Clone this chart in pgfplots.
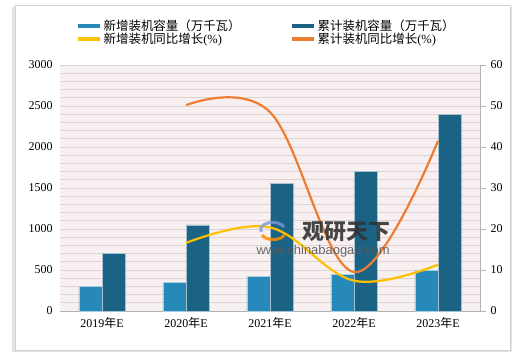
\documentclass[border=0pt]{standalone}
\usepackage{pgfplots}
\pgfplotsset{compat=1.18}
\usepackage{fontspec}
\setmainfont{Liberation Serif}
\newfontfamily\cjk{Noto Sans CJK SC}
\newfontfamily\wsans{Liberation Sans}
\definecolor{newc}{HTML}{2689BA}
\definecolor{cumc}{HTML}{1B6385}
\definecolor{yelc}{HTML}{FFC000}
\definecolor{orac}{HTML}{ED7D31}
\definecolor{bgc}{HTML}{F8F0F0}
\definecolor{gridc}{HTML}{DCD3D3}
\begin{document}
\begin{tikzpicture}[x=1bp,y=1bp]
\path[use as bounding box] (0,0) rectangle (520,353);
\fill[gray!22] (12,1) rectangle (512,346);
\draw[gray!35, fill=white] (15,3) rectangle (510,348);
\begin{axis}[
  at={(60bp,42bp)}, anchor=south west,
  width=420bp, height=246bp, scale only axis,
  xmin=-0.5, xmax=4.5, ymin=0, ymax=3000,
  xtick={0,1,2,3,4},
  xticklabels={2019{\cjk 年}E,2020{\cjk 年}E,2021{\cjk 年}E,2022{\cjk 年}E,2023{\cjk 年}E},
  ytick={0,500,...,3000},
  minor ytick={100,200,...,2900},
  ymajorgrids, yminorgrids,
  major grid style={draw=gridc, line width=0.9bp},
  minor grid style={draw=gridc, line width=0.9bp},
  axis background/.style={fill=bgc},
  axis x line*=bottom, axis y line*=left,
  x axis line style={draw=gray!60, line width=0.8bp, -},
  y axis line style={draw=none},
  major tick length=0pt, minor tick length=0pt,
  xtick style={draw=none}, ytick style={draw=none},
  tick label style={font=\fontsize{12}{14}\selectfont},
  /pgf/number format/assume math mode=true,
  /pgf/number format/1000 sep={},
  yticklabel style={xshift=-4bp},
  xticklabel style={yshift=-3bp},
  clip=false,
]
\addplot[ybar, bar width=23bp, bar shift=-11.7bp, fill=newc, draw=white!60!newc, line width=0.5bp]
  coordinates {(0,300) (1,350) (2,420) (3,450) (4,500)};
\addplot[ybar, bar width=23bp, bar shift=11.7bp, fill=cumc, draw=white!60!cumc, line width=0.5bp]
  coordinates {(0,700) (1,1050) (2,1560) (3,1700) (4,2400)};
\end{axis}
\begin{axis}[
  at={(60bp,42bp)}, anchor=south west,
  width=420bp, height=246bp, scale only axis,
  xmin=-0.5, xmax=4.5, ymin=0, ymax=60,
  axis x line=none, axis y line*=right,
  ytick={0,10,...,60},
  y axis line style={draw=gray!60, line width=0.8bp, -},
  ytick style={draw=gray!60, line width=0.8bp},
  major tick length=6bp, tick align=outside,
  tick label style={font=\fontsize{12}{14}\selectfont},
  /pgf/number format/assume math mode=true,
  yticklabel style={xshift=1bp},
  legend columns=2,
  legend cell align=left,
  legend image code/.code={\draw[#1, line width=4bp] (0bp,0bp) -- (22bp,0bp);},
  legend style={at={(0.038,1.192)}, anchor=north west, draw=none, fill=none,
    inner sep=0pt, font=\fontsize{12.5}{14}\selectfont, row sep=-2bp,
    nodes={inner sep=1.5bp},
    /tikz/every even column/.append style={column sep=48bp}},
  clip=false,
]
\addlegendimage{newc}
\addlegendentry{{\cjk 新增装机容量（万千瓦）}}
\addlegendimage{cumc}
\addlegendentry{{\cjk 累计装机容量（万千瓦）}}
\addplot[yelc, line width=2.2bp, smooth, tension=0.62]
  coordinates {(1,16.6) (2,20.4) (3,7.4) (4,11.3)};
\addlegendentry{{\cjk 新增装机同比增长}(\%)}
\addplot[orac, line width=2.2bp, smooth, tension=0.62]
  coordinates {(1,50.2) (2,48.5) (3,9.5) (4,41.5)};
\addlegendentry{{\cjk 累计装机同比增长}(\%)}
\end{axis}
% watermark
\draw[line width=3bp, cyan!45!blue!55, opacity=0.8] (284,126) arc (20:200:12 and 7);
\draw[line width=3bp, orange!90!yellow, opacity=0.85] (262,118) arc (200:340:12 and 7);
\node[anchor=west, text=black!80, opacity=0.9, font=\cjk\bfseries\fontsize{22}{24}\selectfont] at (299,121) {观研天下};
\node[anchor=west, text=black!65, opacity=0.9, font=\wsans\fontsize{13}{15}\selectfont] at (253,101.5) {www.chinabaogao.com};
\end{tikzpicture}
\end{document}
